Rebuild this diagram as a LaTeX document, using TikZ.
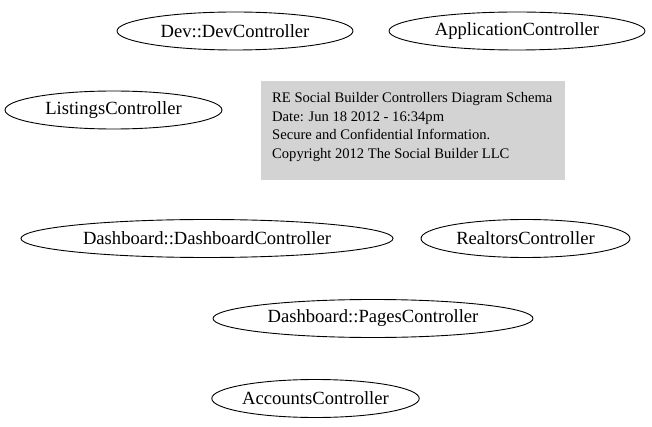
\documentclass[tikz,border=0pt]{standalone}
\usepackage{fontspec}
\setmainfont{Liberation Serif}
\usetikzlibrary{shapes.geometric}
\tikzset{
  ctrl/.style={ellipse, draw, line width=0.9pt, inner sep=0pt, minimum height=38pt, font=\fontsize{18.6}{20}\selectfont},
  infobox/.style={rectangle, fill={rgb,255:red,211;green,211;blue,211}, inner sep=0pt, minimum width=304pt, minimum height=99pt},
  infotext/.style={anchor=north west, inner sep=0pt, align=left, font=\fontsize{14.6}{18.7}\selectfont}
}
\begin{document}
\begin{tikzpicture}[x=1pt,y=-1pt]
\useasboundingbox (0,0) rectangle (652,427);
\node[ctrl, minimum width=236pt] (dev) at (235,31) {Dev::DevController};
\node[ctrl, minimum width=256pt] (app) at (517,31) {ApplicationController};
\node[ctrl, minimum width=217pt] (list) at (113.5,110) {ListingsController};
\node[infobox] (box) at (413,130.5) {};
\node[infotext] (info) at (272,92) {RE Social Builder Controllers Diagram Schema\\Date: Jun 18 2012 - 16:34pm\\Secure and Confidential Information.\\Copyright 2012 The Social Builder LLC};
\node[ctrl, minimum width=372pt] (dash) at (207,238.5) {Dashboard::DashboardController};
\node[ctrl, minimum width=209pt] (real) at (525.5,238.5) {RealtorsController};
\node[ctrl, minimum width=320pt] (pages) at (373,318.5) {Dashboard::PagesController};
\node[ctrl, minimum width=207pt] (acc) at (315.5,398.5) {AccountsController};
\end{tikzpicture}
\end{document}
